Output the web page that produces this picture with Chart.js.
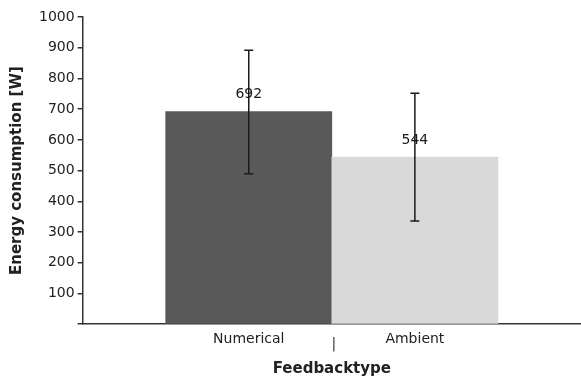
<!DOCTYPE html>
<html>
<head>
<meta charset="utf-8">
<script src="https://cdn.jsdelivr.net/npm/chart.js@4.4.1/dist/chart.umd.min.js"></script>
<style>
html,body{margin:0;padding:0;background:#fff;}
#wrap{width:581px;height:378px;position:relative;}
</style>
</head>
<body>
<div id="wrap"><canvas id="c"></canvas></div>
<script>
const categories = ['', 'Numerical', 'Ambient', ''];
const values = [null, 692, 544, null];
const errLow = [null, 490, 336, null];
const errHigh = [null, 892, 752, null];
const valueLabels = [null, '692', '544', null];
const barColors = ['#595959', '#595959', '#d9d9d9', '#d9d9d9'];
const yMin = 0, yMax = 1000, yStep = 100;

const FONT = '"DejaVu Sans", sans-serif';

const extras = {
  id: 'extras',
  afterDatasetsDraw(chart) {
    const ctx = chart.ctx;
    const x = chart.scales.x, y = chart.scales.y;
    ctx.save();
    ctx.strokeStyle = '#1a1a1a';
    ctx.lineWidth = 1.5;
    for (let i = 0; i < values.length; i++) {
      if (values[i] == null) continue;
      const px = x.getPixelForValue(i);
      const yl = y.getPixelForValue(errLow[i]);
      const yh = y.getPixelForValue(errHigh[i]);
      ctx.beginPath();
      ctx.moveTo(px, yl); ctx.lineTo(px, yh);
      ctx.moveTo(px - 4.5, yl); ctx.lineTo(px + 4.5, yl);
      ctx.moveTo(px - 4.5, yh); ctx.lineTo(px + 4.5, yh);
      ctx.stroke();
    }
    ctx.fillStyle = '#1a1a1a';
    ctx.font = '14px ' + FONT;
    ctx.textAlign = 'center';
    ctx.textBaseline = 'middle';
    for (let i = 0; i < values.length; i++) {
      if (values[i] == null) continue;
      const px = x.getPixelForValue(i);
      const py = y.getPixelForValue(values[i]) - 17;
      ctx.fillText(valueLabels[i], px, py);
    }
    const sx = (x.getPixelForValue(1) + x.getPixelForValue(2)) / 2 + 2;
    ctx.font = '14px ' + FONT;
    ctx.fillStyle = '#333';
    ctx.fillText('|', sx, y.getPixelForValue(0) + 20);
    ctx.restore();
  }
};

new Chart(document.getElementById('c'), {
  type: 'bar',
  data: {
    labels: categories,
    datasets: [{
      data: values,
      backgroundColor: barColors,
      borderWidth: 0,
      barPercentage: 1.0,
      categoryPercentage: 1.0
    }]
  },
  options: {
    responsive: true,
    maintainAspectRatio: false,
    animation: false,
    devicePixelRatio: 1,
    layout: { padding: { top: 17, right: 0, left: 6, bottom: 0 } },
    plugins: { legend: { display: false }, tooltip: { enabled: false } },
    scales: {
      x: {
        offset: false,
        grid: { display: false, drawTicks: false },
        border: { display: true, color: '#333', width: 1.5 },
        afterFit: s => { s.paddingRight = 0; },
        ticks: {
          color: '#222', font: { family: FONT, size: 14 }, padding: 7,
          maxRotation: 0, autoSkip: false
        },
        title: {
          display: true, text: 'Feedbacktype', color: '#222',
          font: { family: FONT, size: 15, weight: 'bold' }, padding: { top: 5, bottom: 0 }
        }
      },
      y: {
        min: yMin, max: yMax,
        grid: { drawOnChartArea: false, drawTicks: true, tickLength: 5, color: '#333', lineWidth: 1.5 },
        border: { display: true, color: '#333', width: 1.5 },
        ticks: {
          stepSize: yStep, color: '#222', font: { family: FONT, size: 14 }, padding: 3,
          callback: v => v === 0 ? '' : String(v)
        },
        title: {
          display: true, text: 'Energy consumption [W]', color: '#222',
          font: { family: FONT, size: 15, weight: 'bold' }, padding: { top: 2, bottom: 10 }
        }
      }
    }
  },
  plugins: [extras]
});
</script>
</body>
</html>
